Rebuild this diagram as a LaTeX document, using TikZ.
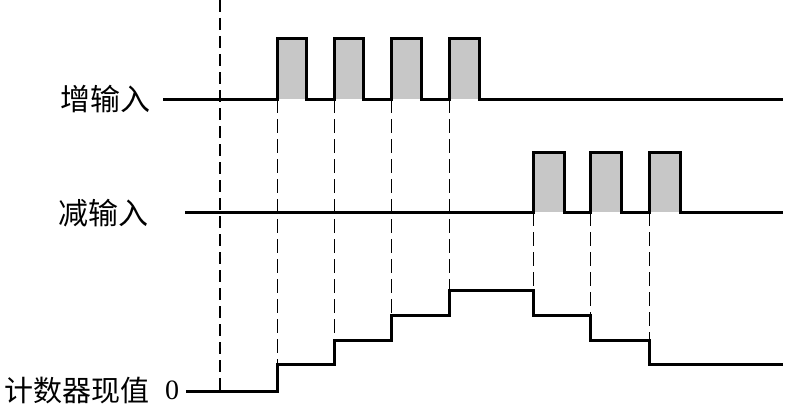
\documentclass[tikz,border=0pt]{standalone}
\usepackage{fontspec}
\setmainfont{Liberation Serif}
\newfontfamily\cjk{Noto Sans CJK SC}
\begin{document}
\begin{tikzpicture}
[x=1pt,y=-1pt,every node/.style={inner sep=0pt,font=\cjk\fontsize{30}{32}\selectfont},
 wave/.style={line width=3pt,line join=miter},
 guide/.style={line width=1pt,dash pattern=on 14pt off 6pt},
 origin/.style={line width=1.3pt,dash pattern=on 12pt off 6pt}]
  \useasboundingbox (0,0) rectangle (789,404);

  \node[anchor=east] (inc) at (151,99) {增输入};
  \node[anchor=east] (dec) at (149,213) {减输入};
  \node[anchor=east,font=\cjk\fontsize{29}{31}\selectfont] (cnt) at (150,391) {计数器现值};
  \node[anchor=west,font=\fontsize{28}{30}\selectfont] (zero) at (165,390) {0};

  % gray pulse bodies
  \foreach \a/\b in {277/306,334/363,391/421,449/479}
    \fill[black!22] (\a,99) rectangle (\b,39);
  \foreach \a/\b in {533/564,590/621,649/680}
    \fill[black!22] (\a,212) rectangle (\b,152);

  % start line
  \draw[origin] (220,0) -- (220,391);

  % count edges
  \foreach \x/\y in {277/364,334/340,391/315,449/290}
    \draw[guide] (\x,99) -- (\x,\y);
  \foreach \x/\y in {533/290,590/315,649/340}
    \draw[guide] (\x,212) -- (\x,\y);

  % waveforms
  \draw[wave] (163,99) \foreach \a/\b in {277/306,334/363,391/421,449/479}
    {-- (\a,99) -- (\a,39) -- (\b,39) -- (\b,99)} -- (783,99);
  \draw[wave] (185,212) \foreach \a/\b in {533/564,590/621,649/680}
    {-- (\a,212) -- (\a,152) -- (\b,152) -- (\b,212)} -- (783,212);
  \draw[wave] (186,391) -- (277,391) -- (277,364) -- (334,364) -- (334,340)
    -- (391,340) -- (391,315) -- (449,315) -- (449,290) -- (533,290)
    -- (533,315) -- (590,315) -- (590,340) -- (649,340) -- (649,364) -- (783,364);
\end{tikzpicture}
\end{document}
